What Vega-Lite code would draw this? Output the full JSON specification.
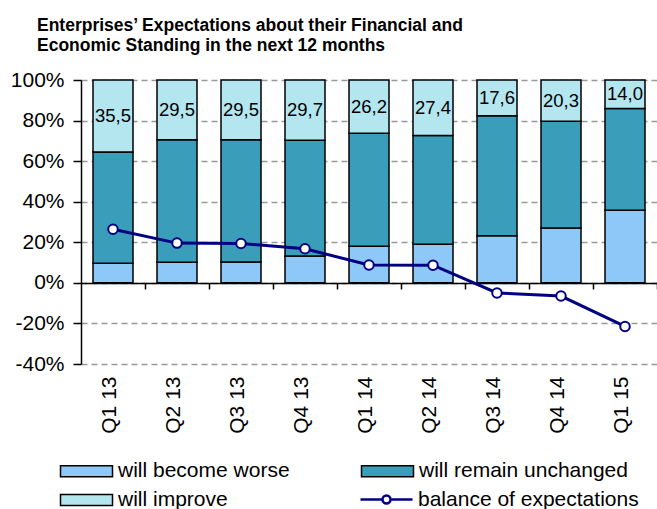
{
  "$schema": "https://vega.github.io/schema/vega-lite/v6.json",
  "width": 576,
  "height": 284,
  "autosize": {"type": "none"},
  "padding": {"left": 81, "top": 80, "right": 0, "bottom": 145},
  "background": "white",
  "config": {
    "view": {"stroke": null},
    "locale": {"number": {"decimal": ",", "thousands": ".", "grouping": [3], "currency": ["", " €"]}},
    "axis": {"labelFont": "Liberation Sans", "labelFontSize": 21, "labelColor": "black", "domainColor": "black", "tickColor": "black", "domainWidth": 1.5, "tickWidth": 1.5},
    "axisY": {"grid": true, "gridColor": "#999999", "gridDash": [6, 4], "gridWidth": 1.5, "tickSize": 8, "labelPadding": 9},
    "legend": {
      "title": null, "orient": "none", "direction": "horizontal",
      "rowPadding": 7, "symbolSize": 100, "labelOffset": 42,
      "labelFont": "Liberation Sans", "labelFontSize": 21, "labelColor": "black", "labelLimit": 400
    }
  },
  "title": {
    "text": ["Enterprises’ Expectations about their Financial and", "Economic Standing in the next 12 months"],
    "anchor": "start", "frame": "group", "dx": -44, "offset": 15,
    "font": "Liberation Sans Narrow, Arial Narrow, sans-serif", "fontSize": 17.5, "fontWeight": "bold", "color": "black", "lineHeight": 20
  },
  "datasets": {
    "shares": [
      {"q": "Q1 13", "series": "will become worse", "value": 9.7},
      {"q": "Q1 13", "series": "will remain unchanged", "value": 54.8},
      {"q": "Q1 13", "series": "will improve", "value": 35.5},
      {"q": "Q2 13", "series": "will become worse", "value": 10.2},
      {"q": "Q2 13", "series": "will remain unchanged", "value": 60.3},
      {"q": "Q2 13", "series": "will improve", "value": 29.5},
      {"q": "Q3 13", "series": "will become worse", "value": 10.3},
      {"q": "Q3 13", "series": "will remain unchanged", "value": 60.2},
      {"q": "Q3 13", "series": "will improve", "value": 29.5},
      {"q": "Q4 13", "series": "will become worse", "value": 13.3},
      {"q": "Q4 13", "series": "will remain unchanged", "value": 57.0},
      {"q": "Q4 13", "series": "will improve", "value": 29.7},
      {"q": "Q1 14", "series": "will become worse", "value": 18.0},
      {"q": "Q1 14", "series": "will remain unchanged", "value": 55.8},
      {"q": "Q1 14", "series": "will improve", "value": 26.2},
      {"q": "Q2 14", "series": "will become worse", "value": 19.0},
      {"q": "Q2 14", "series": "will remain unchanged", "value": 53.6},
      {"q": "Q2 14", "series": "will improve", "value": 27.4},
      {"q": "Q3 14", "series": "will become worse", "value": 23.2},
      {"q": "Q3 14", "series": "will remain unchanged", "value": 59.2},
      {"q": "Q3 14", "series": "will improve", "value": 17.6},
      {"q": "Q4 14", "series": "will become worse", "value": 27.0},
      {"q": "Q4 14", "series": "will remain unchanged", "value": 52.7},
      {"q": "Q4 14", "series": "will improve", "value": 20.3},
      {"q": "Q1 15", "series": "will become worse", "value": 35.8},
      {"q": "Q1 15", "series": "will remain unchanged", "value": 50.2},
      {"q": "Q1 15", "series": "will improve", "value": 14.0}
    ],
    "balance": [
      {"q": "Q1 13", "b": 26.4},
      {"q": "Q2 13", "b": 19.6},
      {"q": "Q3 13", "b": 19.4},
      {"q": "Q4 13", "b": 16.8},
      {"q": "Q1 14", "b": 8.8},
      {"q": "Q2 14", "b": 8.7},
      {"q": "Q3 14", "b": -5.0},
      {"q": "Q4 14", "b": -6.5},
      {"q": "Q1 15", "b": -21.5}
    ]
  },
  "resolve": {"axis": {"x": "independent"}},
  "layer": [
    {
      "data": {"name": "shares"},
      "transform": [{"calculate": "indexof(['will become worse','will remain unchanged','will improve'], datum.series)", "as": "ord"}],
      "mark": {"type": "bar", "stroke": "black", "strokeWidth": 1.5},
      "encoding": {
        "x": {"field": "q", "type": "nominal", "sort": null,
          "scale": {"paddingInner": 0.375, "paddingOuter": 0.1875},
          "axis": {"orient": "bottom", "title": null, "domain": false, "ticks": false, "grid": false, "labelAngle": 270, "labelPadding": 12, "labelOffset": -3}},
        "y": {"field": "value", "type": "quantitative", "stack": "zero",
          "scale": {"domain": [-40, 100], "nice": false},
          "axis": {"title": null, "values": [-40, -20, 0, 20, 40, 60, 80, 100], "labelExpr": "datum.value + '%'"}},
        "color": {"field": "series", "type": "nominal",
          "scale": {"domain": ["will become worse", "will remain unchanged", "will improve"],
                    "range": ["#8EC8F8", "#3A9DBA", "#B4E6F0"]},
          "legend": {
            "legendX": -26, "legendY": 380.5, "columns": 2, "columnPadding": 66,
            "symbolType": "M-1,-1.1H9.4V1.1H-1Z", "symbolStrokeColor": "black", "symbolStrokeWidth": 1.5
          }},
        "order": {"field": "ord", "type": "quantitative"}
      }
    },
    {
      "data": {"name": "shares"},
      "transform": [
        {"filter": "datum.series === 'will improve'"},
        {"calculate": "100 - datum.value / 2", "as": "mid"}
      ],
      "mark": {"type": "text", "font": "Liberation Sans", "fontSize": 18.5, "color": "black"},
      "encoding": {
        "x": {"field": "q", "type": "nominal", "sort": null, "axis": null},
        "y": {"field": "mid", "type": "quantitative", "axis": {"title": null}},
        "text": {"field": "value", "type": "quantitative", "format": ".1f"}
      }
    },
    {
      "data": {"name": "balance"},
      "mark": {"type": "line", "strokeWidth": 3},
      "encoding": {
        "x": {"field": "q", "type": "nominal", "sort": null,
          "axis": {"orient": "bottom", "offset": -81, "labels": false, "domain": true, "ticks": true, "tickSize": 6, "bandPosition": 1.3, "title": null, "grid": false}},
        "y": {"field": "b", "type": "quantitative", "axis": {"title": null}},
        "stroke": {"datum": "balance of expectations", "type": "nominal",
          "scale": {"domain": ["balance of expectations"], "range": ["#000080"]},
          "legend": {
            "legendX": 274, "legendY": 409,
            "symbolType": "M-1,0H3.4M5,0H9.4M5,0A0.8,0.8 0 1,1 3.4,0A0.8,0.8 0 1,1 5,0Z",
            "symbolStrokeWidth": 2.5, "symbolFillColor": "white"
          }}
      }
    },
    {
      "data": {"name": "balance"},
      "mark": {"type": "point", "filled": true, "fill": "white", "stroke": "#000080", "strokeWidth": 2, "size": 90, "opacity": 1},
      "encoding": {
        "x": {"field": "q", "type": "nominal", "sort": null, "axis": null},
        "y": {"field": "b", "type": "quantitative", "axis": {"title": null}}
      }
    }
  ]
}
